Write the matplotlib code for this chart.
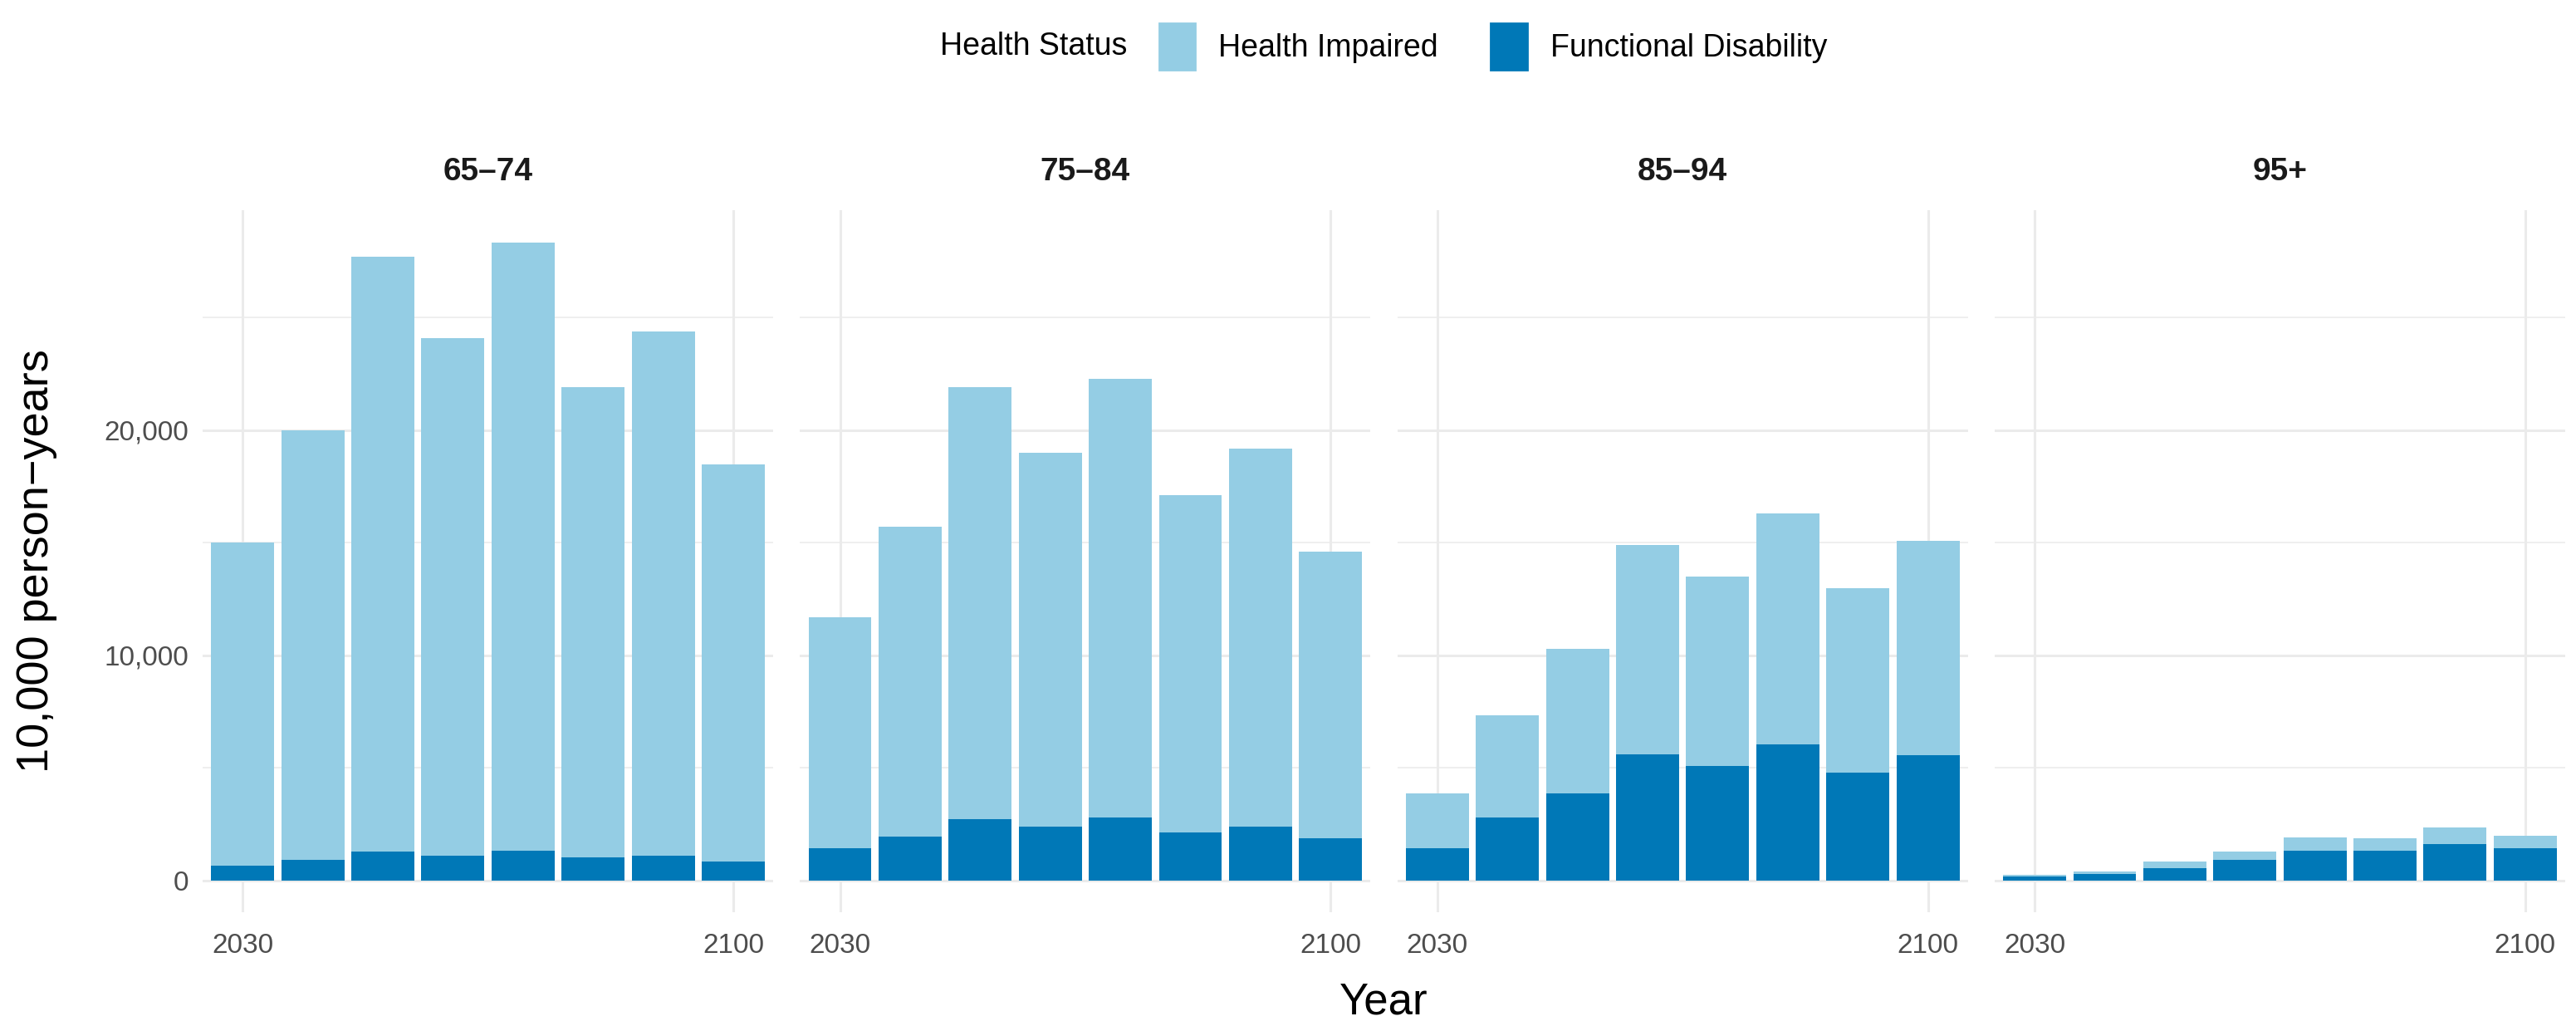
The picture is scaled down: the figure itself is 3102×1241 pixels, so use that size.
import matplotlib
matplotlib.use("Agg")
import matplotlib.pyplot as plt
from matplotlib.patches import Patch
from matplotlib.offsetbox import HPacker
from matplotlib.ticker import FuncFormatter, MultipleLocator
import numpy as np

plt.rcParams['font.family'] = ['Liberation Sans', 'DejaVu Sans']

# data (units: 10,000 person-years)
years = [2030, 2040, 2050, 2060, 2070, 2080, 2090, 2100]
age_groups = ["65–74", "75–84", "85–94", "95+"]

disability = {
    "65–74": [670, 915, 1290, 1090, 1310, 1015, 1110, 840],
    "75–84": [1450, 1940, 2720, 2380, 2800, 2130, 2380, 1860],
    "85–94": [1450, 2780, 3860, 5590, 5070, 6060, 4790, 5570],
    "95+": [170, 270, 545, 930, 1320, 1320, 1610, 1420],
}
impaired = {
    "65–74": [14330, 19085, 26410, 23010, 27040, 20885, 23290, 17660],
    "75–84": [10250, 13760, 19180, 16620, 19500, 14970, 16820, 12740],
    "85–94": [2410, 4570, 6440, 9310, 8430, 10240, 8210, 9530],
    "95+": [80, 130, 285, 340, 580, 560, 740, 580],
}

LIGHT = "#94cde4"
DARK = "#0078b7"
GRID = "#ebebeb"

fig, axes = plt.subplots(1, 4, figsize=(15.51, 6.205), dpi=200, sharey=True)
fig.subplots_adjust(left=0.0787, right=0.9958, top=0.796, bottom=0.115, wspace=0.047)

for ax, grp in zip(axes, age_groups):
    d = np.array(disability[grp])
    h = np.array(impaired[grp])
    ax.bar(years, d, width=9, color=DARK, zorder=3)
    ax.bar(years, h, width=9, bottom=d, color=LIGHT, zorder=3)

    ax.set_xlim(2024.3, 2105.7)
    ax.set_ylim(-1420, 29770)
    ax.set_xticks([2030, 2100])
    ax.yaxis.set_major_locator(MultipleLocator(10000))
    ax.yaxis.set_minor_locator(MultipleLocator(5000))
    ax.yaxis.set_major_formatter(FuncFormatter(lambda v, p: f"{int(v):,}"))
    ax.grid(which='major', color=GRID, linewidth=1.1, zorder=0)
    ax.grid(which='minor', axis='y', color=GRID, linewidth=0.55, zorder=0)
    ax.set_axisbelow(True)
    for s in ax.spines.values():
        s.set_visible(False)
    ax.tick_params(which='both', length=0, labelsize=12, labelcolor='#4d4d4d')
    ax.tick_params(axis='x', pad=9)
    ax.tick_params(axis='y', pad=6)
    ax.set_title(grp, fontsize=14, fontweight='bold', color='#1a1a1a', pad=13)

fig.supxlabel("Year", fontsize=19, x=0.537, y=0.008)
fig.supylabel("10,000 person−years", fontsize=19.5, x=0.006, y=0.456)

# legend along the top, title on the left like ggplot
handles = [Patch(color=LIGHT, label="Health Impaired"),
           Patch(color=DARK, label="Functional Disability")]
leg = fig.legend(handles=handles, title="Health Status", loc='center',
                 bbox_to_anchor=(0.537, 0.955), ncol=2, frameon=False,
                 fontsize=13.5, title_fontsize=13.5, handlelength=1.15,
                 handleheight=1.9, handletextpad=0.75, columnspacing=1.7,
                 borderpad=0)
box = leg._legend_box
box.__class__ = HPacker
box.align = "center"
box.sep = 14

fig.savefig("out.png", dpi=200)
